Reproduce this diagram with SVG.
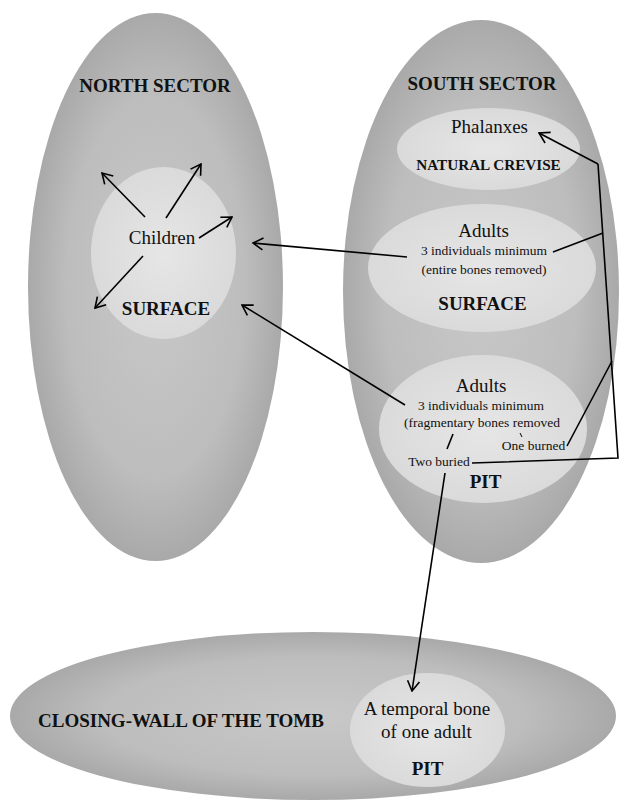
<svg xmlns="http://www.w3.org/2000/svg" width="620" height="803" viewBox="0 0 620 803">
  <defs>
    <radialGradient id="outerFill" cx="50%" cy="50%" r="50%">
      <stop offset="0" stop-color="#c8c8c8"/>
      <stop offset="0.7" stop-color="#bdbdbd"/>
      <stop offset="1" stop-color="#a9a9a9"/>
    </radialGradient>
    <radialGradient id="innerFill" cx="50%" cy="50%" r="50%">
      <stop offset="0" stop-color="#e6e6e6"/>
      <stop offset="1" stop-color="#dadada"/>
    </radialGradient>
    <marker id="arrow" viewBox="0 0 12 14" refX="11" refY="7" markerWidth="12" markerHeight="14" markerUnits="userSpaceOnUse" orient="auto">
      <path d="M1,1 L11,7 L1,13" fill="none" stroke="#000" stroke-width="1.6"/>
    </marker>
    <style>
      .outer { fill: url(#outerFill); }
      .inner { fill: url(#innerFill); }
      .t { font-family: "Liberation Serif", "Times New Roman", serif; fill: #111; text-anchor: middle; }
      .big { font-size: 19px; }
      .small { font-size: 13.5px; }
      .b { font-weight: bold; }
      .line { fill: none; stroke: #000; stroke-width: 1.6; }
      .arr { fill: none; stroke: #000; stroke-width: 1.6; marker-end: url(#arrow); }
    </style>
  </defs>

  <rect width="620" height="803" fill="#fff"/>

  <!-- North sector -->
  <g id="north-sector">
    <ellipse class="outer" cx="155.5" cy="287" rx="127.5" ry="274"/>
    <text class="t big b" x="155" y="92">NORTH SECTOR</text>
  </g>
  <g id="north-surface">
    <ellipse class="inner" cx="163.5" cy="253" rx="72.5" ry="86"/>
    <text class="t big" x="162" y="244">Children</text>
    <text class="t big b" x="166" y="315">SURFACE</text>
  </g>

  <!-- South sector -->
  <g id="south-sector">
    <ellipse class="outer" cx="481" cy="291.5" rx="138" ry="271.5"/>
    <text class="t big b" x="482" y="90">SOUTH SECTOR</text>
  </g>
  <g id="south-crevise">
    <ellipse class="inner" cx="488.5" cy="149" rx="91.5" ry="41"/>
    <text class="t big" x="489.5" y="133">Phalanxes</text>
    <text class="t b" style="font-size:15.2px" x="488.5" y="170">NATURAL CREVISE</text>
  </g>
  <g id="south-surface">
    <ellipse class="inner" cx="482" cy="268" rx="114" ry="64"/>
    <text class="t big" x="483.5" y="237">Adults</text>
    <text class="t small" x="484" y="255">3 individuals minimum</text>
    <text class="t small" x="484" y="274">(entire bones removed)</text>
    <text class="t big b" x="482.5" y="310">SURFACE</text>
  </g>
  <g id="south-pit">
    <ellipse class="inner" cx="483" cy="429" rx="104" ry="74"/>
    <text class="t big" x="481" y="392">Adults</text>
    <text class="t small" x="481" y="410">3 individuals minimum</text>
    <text class="t small" x="482" y="427">(fragmentary bones removed</text>
    <text class="t small" x="533.5" y="450">One burned</text>
    <text class="t small" x="439" y="466">Two buried</text>
    <text class="t big b" x="485.5" y="488">PIT</text>
  </g>

  <!-- Closing wall -->
  <g id="closing-wall">
    <ellipse class="outer" cx="313" cy="716" rx="303" ry="84"/>
    <text class="t big b" x="181" y="727">CLOSING-WALL OF THE TOMB</text>
  </g>
  <g id="closing-wall-pit">
    <ellipse class="inner" cx="427.5" cy="730" rx="77.5" ry="57"/>
    <text class="t big" x="427" y="715">A temporal bone</text>
    <text class="t big" x="426.5" y="738">of one adult</text>
    <text class="t big b" x="427.5" y="775">PIT</text>
  </g>

  <!-- Connectors -->
  <g id="connectors">
    <!-- children dispersal -->
    <path class="arr" d="M145,217 L102,173"/>
    <path class="arr" d="M166,218 L201,164"/>
    <path class="arr" d="M199,238 L232,217"/>
    <path class="arr" d="M143,256 L95,308"/>
    <!-- south to north -->
    <path class="arr" d="M407,257 L253,243"/>
    <path class="arr" d="M405,405 L242,305"/>
    <!-- links between south sector deposits -->
    <path class="arr" d="M598,164 L539,133"/>
    <path class="line" d="M598,164 L618,458 L472,463"/>
    <path class="line" d="M553,252 L603,233"/>
    <path class="line" d="M567,446 L612,361"/>
    <path class="line" d="M453,434 L447,449"/>
    <path class="line" style="stroke-width:1" d="M520,433 L522,437"/>
    <!-- pit to closing wall -->
    <path class="arr" d="M445,473 L412,691"/>
  </g>
</svg>
